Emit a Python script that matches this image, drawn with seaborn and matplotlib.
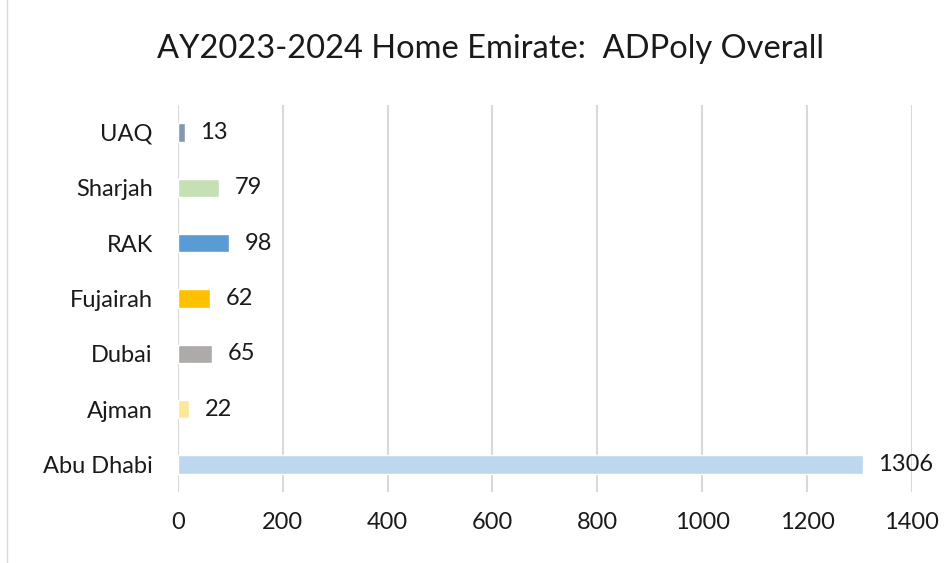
import matplotlib
matplotlib.use("Agg")
import matplotlib.pyplot as plt
import matplotlib.lines as mlines
import pandas as pd
import seaborn as sns

# Data (top to bottom)
emirates = ["UAQ", "Sharjah", "RAK", "Fujairah", "Dubai", "Ajman", "Abu Dhabi"]
counts = [13, 79, 98, 62, 65, 22, 1306]
bar_colors = ["#8497B0", "#C5E0B4", "#5B9BD5", "#FFC000", "#AEAAAA", "#FFE699", "#BDD7EE"]
x_ticks = [0, 200, 400, 600, 800, 1000, 1200, 1400]

df = pd.DataFrame({"Emirate": emirates, "Count": counts})

sns.set_style("white")
plt.rcParams["font.family"] = ["Lato", "DejaVu Sans"]

fig = plt.figure(figsize=(9.46, 5.63), dpi=100)
ax = fig.add_axes([0.188, 0.126, 0.776, 0.688])

sns.barplot(data=df, y="Emirate", x="Count", hue="Emirate", order=emirates,
            palette=dict(zip(emirates, bar_colors)), legend=False,
            width=0.33, saturation=1, ax=ax)

# Value labels
for i, v in enumerate(counts):
    ax.text(v + 30, i, str(v), va="center", ha="left", fontsize=17, color="#1a1a1a")

ax.set_xlim(0, 1400)
ax.set_ylim(6.5, -0.5)
ax.set_xticks(x_ticks)
ax.xaxis.grid(True, color="#D9D9D9", linewidth=1.5)
ax.set_axisbelow(True)
for s in ax.spines.values():
    s.set_visible(False)
ax.tick_params(axis="both", length=0, labelsize=17, colors="#1a1a1a", pad=14)
ax.tick_params(axis="y", pad=18)
ax.set_xlabel("")
ax.set_ylabel("")

fig.suptitle("AY2023-2024 Home Emirate:  ADPoly Overall", fontsize=23.5,
             color="#1a1a1a", x=0.518, y=0.94)

# thin frame line at the left edge
fig.add_artist(mlines.Line2D([0.007, 0.007], [0, 1], color="#D9D9D9", linewidth=1,
                             transform=fig.transFigure))

fig.savefig("out.png", dpi=100)
